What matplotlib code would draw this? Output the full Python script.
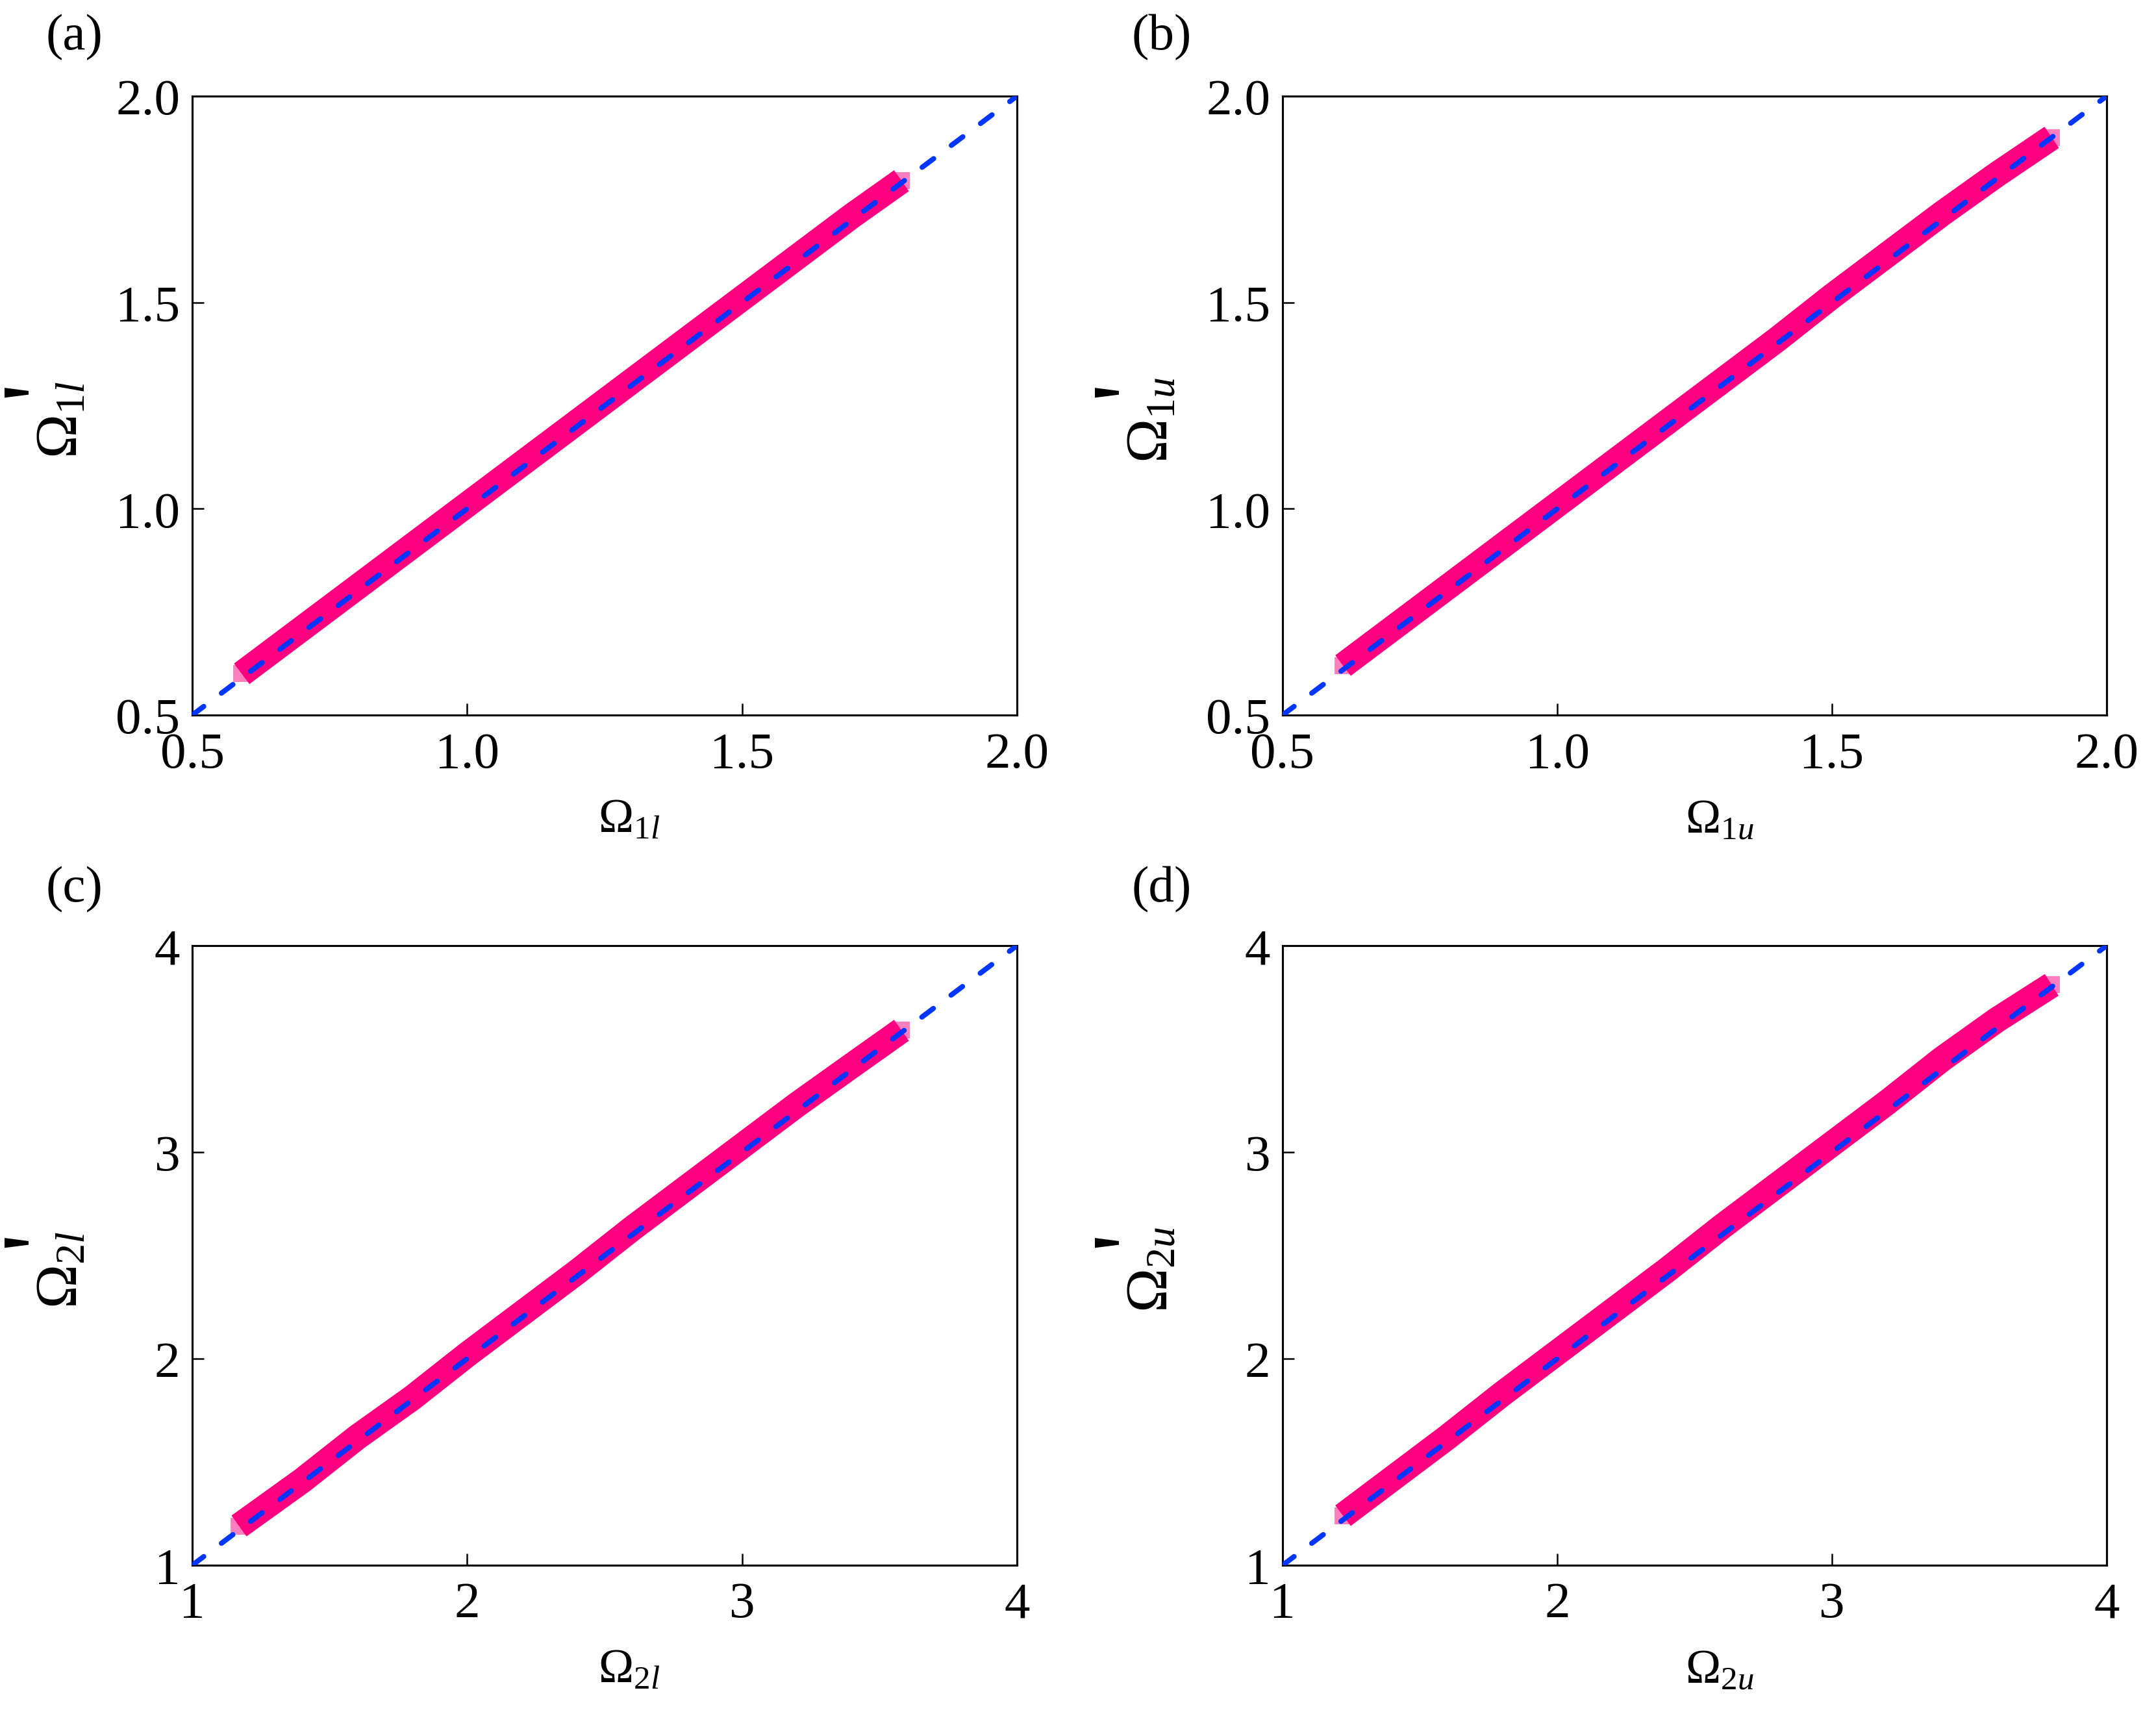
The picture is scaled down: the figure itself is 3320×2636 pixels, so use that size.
import numpy as np
import matplotlib
matplotlib.use("Agg")
import matplotlib.pyplot as plt

plt.rcParams['font.family'] = ['Liberation Serif', 'DejaVu Serif']
plt.rcParams['mathtext.fontset'] = 'custom'
plt.rcParams['mathtext.rm'] = 'Liberation Serif'
plt.rcParams['mathtext.it'] = 'Liberation Serif:italic'
plt.rcParams['mathtext.bf'] = 'Liberation Serif:bold'

# band centre lines (x = original, y = reconstructed)
xa = [0.59, 0.70, 0.80, 0.90, 1.00, 1.10, 1.20, 1.30, 1.40, 1.50, 1.60, 1.70, 1.79]
ya = [0.60, 0.71, 0.81, 0.91, 1.01, 1.11, 1.21, 1.31, 1.41, 1.51, 1.61, 1.71, 1.795]

xb = [0.61, 0.70, 0.80, 0.90, 1.00, 1.10, 1.20, 1.30, 1.40, 1.50, 1.60, 1.70, 1.80, 1.90]
yb = [0.62, 0.71, 0.81, 0.91, 1.01, 1.11, 1.21, 1.31, 1.41, 1.515, 1.615, 1.715, 1.81, 1.90]

xc = [1.17, 1.40, 1.60, 1.80, 2.00, 2.20, 2.40, 2.60, 2.80, 3.00, 3.20, 3.40, 3.58]
yc = [1.19, 1.41, 1.62, 1.81, 2.02, 2.22, 2.42, 2.63, 2.83, 3.03, 3.23, 3.42, 3.59]

xd = [1.22, 1.40, 1.60, 1.80, 2.00, 2.20, 2.40, 2.60, 2.80, 3.00, 3.20, 3.40, 3.60, 3.80]
yd = [1.24, 1.42, 1.62, 1.83, 2.03, 2.23, 2.43, 2.64, 2.84, 3.04, 3.24, 3.45, 3.64, 3.81]

diag_ab = [0.5, 2.0]
diag_cd = [1.0, 4.0]
ticks_ab = [0.5, 1.0, 1.5, 2.0]
ticks_cd = [1, 2, 3, 4]
tlab_ab = ['0.5', '1.0', '1.5', '2.0']
tlab_cd = ['1', '2', '3', '4']

panels = [
    ('(a)', xa, ya, diag_ab, ticks_ab, tlab_ab, r'$\Omega_{1l}$'),
    ('(b)', xb, yb, diag_ab, ticks_ab, tlab_ab, r'$\Omega_{1u}$'),
    ('(c)', xc, yc, diag_cd, ticks_cd, tlab_cd, r'$\Omega_{2l}$'),
    ('(d)', xd, yd, diag_cd, ticks_cd, tlab_cd, r'$\Omega_{2u}$'),
]

W, H = 3320, 2637
fig = plt.figure(figsize=(W / 300, H / 300), dpi=300)

# axes boxes in pixels: left, top, right, bottom
boxes = [(296, 149, 1566, 1102), (1975, 149, 3244, 1102),
         (296, 1457, 1566, 2411), (1975, 1457, 3244, 2411)]
label_pos = [(70, 58), (1742, 58), (70, 1370), (1742, 1370)]

pink = '#ff0080'
blue = '#0036ff'

for (tag, x, y, diag, ticks, tlab, lab), (l, t, r, b), (px, py) in zip(panels, boxes, label_pos):
    ax = fig.add_axes([l / W, 1 - b / H, (r - l) / W, (b - t) / H])
    ax.plot(x, y, color=pink, lw=9.5, solid_capstyle='butt', zorder=2)
    ax.scatter(x, y, marker='s', s=40, color=pink, alpha=0.5, lw=0, zorder=2)
    ax.plot(diag, diag, color=blue, lw=1.9, ls=(0, (2.8, 4.3)), dash_capstyle='round', zorder=3)
    ax.set_xlim(diag)
    ax.set_ylim(diag)
    ax.set_xticks(ticks)
    ax.set_yticks(ticks)
    ax.set_xticklabels(tlab)
    ax.set_yticklabels(tlab)
    ax.tick_params(direction='in', length=4.3, width=0.6, labelsize=19, top=False, right=False)
    ax.tick_params(axis='x', pad=6)
    ax.tick_params(axis='y', pad=4.5)
    for sp in ax.spines.values():
        sp.set_linewidth(0.75)
    ax.set_xlabel(lab, fontsize=17.5)
    ax.set_ylabel(lab, fontsize=22)
    ax.xaxis.set_label_coords(0.53, -0.135)
    ax.yaxis.set_label_coords(-0.125, 0.478)
    # the prime on the y label
    ax.text(-0.150, 0.529, "'", transform=ax.transAxes, rotation=90,
            rotation_mode='anchor', fontsize=38, ha='center', va='baseline')
    fig.text(px / W, 1 - py / H, tag, fontsize=19, ha='left', va='center')

fig.savefig('out.png', dpi=300)
